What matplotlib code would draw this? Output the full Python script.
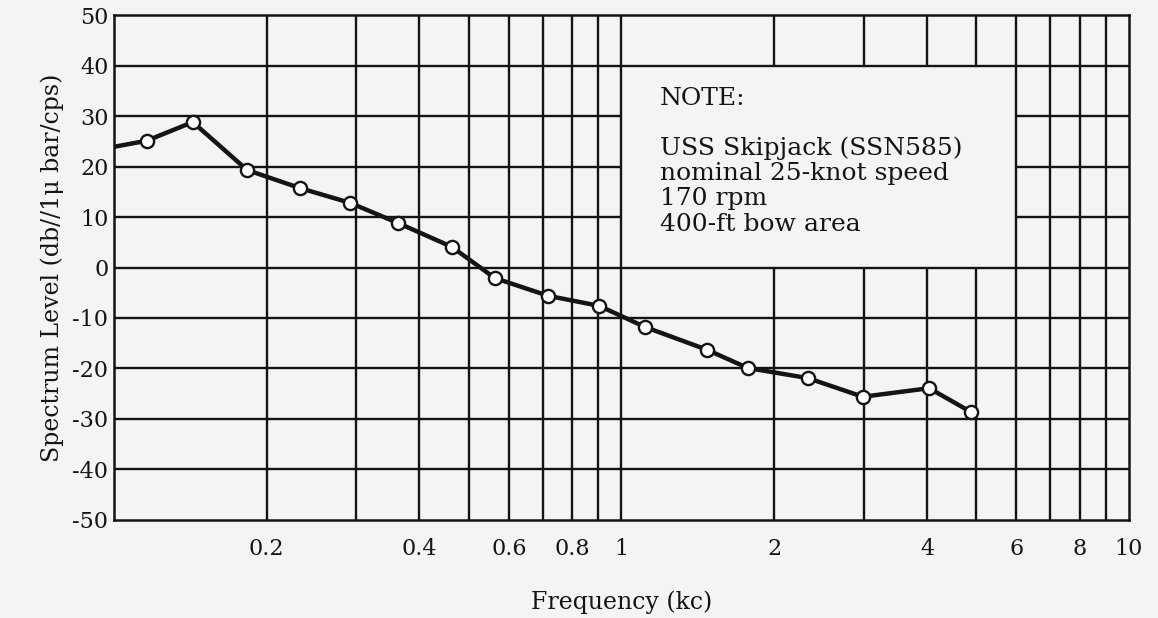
import numpy as np
import matplotlib
matplotlib.use("Agg")
import matplotlib.pyplot as plt

# Measured spectrum level versus frequency
freq_kc = [0.10, 0.116, 0.143, 0.183, 0.233, 0.292, 0.363, 0.463, 0.563,
           0.717, 0.904, 1.114, 1.475, 1.774, 2.33, 2.99, 4.04, 4.88]
level_db = [23.9, 25.1, 28.8, 19.3, 15.7, 12.8, 8.8, 4.1, -2.1,
            -5.6, -7.6, -11.8, -16.3, -19.9, -21.9, -25.6, -23.9, -28.6]

y_ticks = [50, 40, 30, 20, 10, 0, -10, -20, -30, -40, -50]
x_tick_vals = [0.2, 0.4, 0.6, 0.8, 1, 2, 4, 6, 8, 10]
x_tick_labels = ["0.2", "0.4", "0.6", "0.8", "1", "2", "4", "6", "8", "10"]
x_grid = [0.2, 0.3, 0.4, 0.5, 0.6, 0.7, 0.8, 0.9, 1, 2, 3, 4, 5, 6, 7, 8, 9]

note_lines = ["USS Skipjack (SSN585)", "nominal 25-knot speed",
              "170 rpm", "400-ft bow area"]

FONT = "DejaVu Serif"
INK = "#141414"
PAPER = "#f4f4f2"

fig = plt.figure(figsize=(11.58, 6.18), dpi=100, facecolor=PAPER)
ax = fig.add_axes([0.0984, 0.1586, 0.8765, 0.8171], facecolor=PAPER)
ax.set_xscale("log")
ax.set_xlim(0.1, 10)
ax.set_ylim(-50, 50)

grid_kw = dict(color=INK, linewidth=1.7, zorder=1)

# Open note panel: grid lines are left out between 1 and 6 kc, 0 and 40 db
box_x0, box_x1, box_y0, box_y1 = 1, 6, 0, 40
for yv in y_ticks[1:-1]:
    if box_y0 < yv < box_y1:
        ax.hlines(yv, 0.1, box_x0, **grid_kw)
        ax.hlines(yv, box_x1, 10, **grid_kw)
    else:
        ax.hlines(yv, 0.1, 10, **grid_kw)
for xv in x_grid:
    if box_x0 < xv < box_x1:
        ax.vlines(xv, -50, box_y0, **grid_kw)
        ax.vlines(xv, box_y1, 50, **grid_kw)
    else:
        ax.vlines(xv, -50, 50, **grid_kw)

for sp in ax.spines.values():
    sp.set_color(INK)
    sp.set_linewidth(1.8)

# Curve and open-circle data points
ax.plot(freq_kc, level_db, color=INK, linewidth=3.2, zorder=3,
        solid_joinstyle="round")
ax.plot(freq_kc[1:], level_db[1:], linestyle="none", marker="o",
        markersize=9.5, markerfacecolor="white", markeredgecolor=INK,
        markeredgewidth=1.7, zorder=4)

ax.set_yticks(y_ticks)
ax.set_yticklabels([str(v) for v in y_ticks], fontfamily=FONT, fontsize=16)
ax.set_xticks(x_tick_vals)
ax.set_xticklabels(x_tick_labels, fontfamily=FONT, fontsize=16)
ax.xaxis.set_minor_locator(matplotlib.ticker.NullLocator())
ax.tick_params(axis="both", length=0, colors=INK)
ax.tick_params(axis="x", pad=13)
ax.tick_params(axis="y", pad=4)

ax.set_xlabel("Frequency (kc)", fontfamily=FONT, fontsize=17, color=INK,
              labelpad=22)
ax.set_ylabel("Spectrum Level (db//1\u03bc bar/cps)", fontfamily=FONT,
              fontsize=17, color=INK, labelpad=6)

ax.text(0.5375, 0.835, "NOTE:", transform=ax.transAxes, fontfamily=FONT,
        fontsize=18, color=INK, va="center", ha="left")
for i, line in enumerate(note_lines):
    ax.text(0.5375, 0.737 - i * 0.0505, line, transform=ax.transAxes,
            fontfamily=FONT, fontsize=18, color=INK, va="center", ha="left")

fig.savefig("out.png", dpi=100, facecolor=PAPER)
